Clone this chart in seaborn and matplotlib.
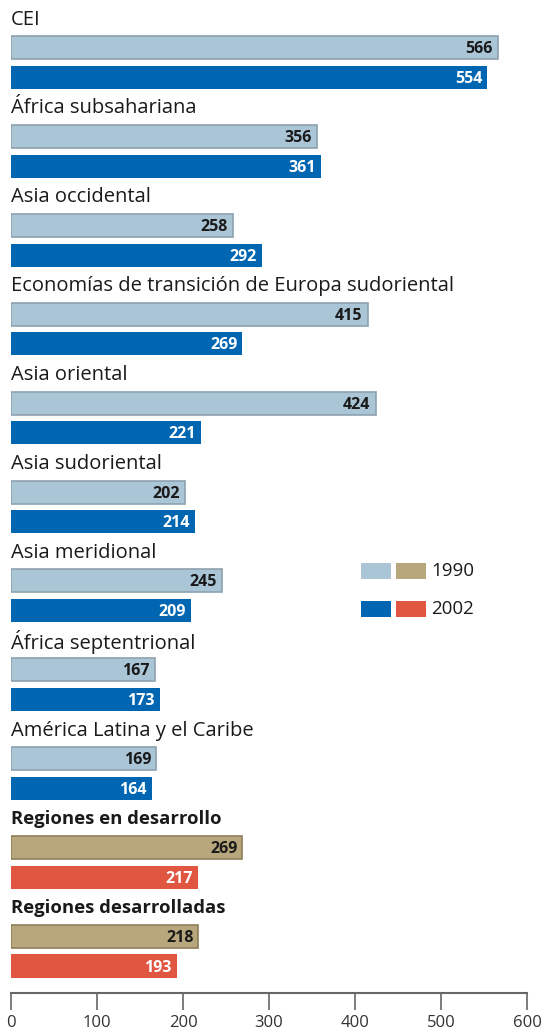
import matplotlib
matplotlib.use("Agg")
import matplotlib.pyplot as plt
import seaborn as sns
import pandas as pd

regions = ["CEI", "África subsahariana", "Asia occidental",
           "Economías de transición de Europa sudoriental", "Asia oriental",
           "Asia sudoriental", "Asia meridional", "África septentrional",
           "América Latina y el Caribe", "Regiones en desarrollo",
           "Regiones desarrolladas"]
values_1990 = [566, 356, 258, 415, 424, 202, 245, 167, 169, 269, 218]
values_2002 = [554, 361, 292, 269, 221, 214, 209, 173, 164, 217, 193]
is_aggregate = [False] * 9 + [True, True]
years = ["1990", "2002"]
xticks = [0, 100, 200, 300, 400, 500, 600]

sns.set_theme(style="white")
plt.rcParams['font.family'] = ['Open Sans', 'DejaVu Sans']

rows = []
order = []
for i, r in enumerate(regions):
    order.append(f"lab{i}")
    for y, v in zip(years, [values_1990[i], values_2002[i]]):
        key = f"{i}_{y}"
        order.append(key)
        kind = ("agg" if is_aggregate[i] else "reg") + y
        rows.append(dict(region=r, year=y, value=v, key=key, kind=kind))
df = pd.DataFrame(rows)

palette = {"reg1990": "#a9c5d6", "reg2002": "#0066b1",
           "agg1990": "#b8a77c", "agg2002": "#e05640"}

fig = plt.figure(figsize=(5.45, 10.32), dpi=100)
ax = fig.add_axes([11/545, 1 - 993/1032, (527-11)/545, 993/1032])

sns.barplot(data=df, x="value", y="key", hue="kind", order=order,
            hue_order=list(palette.keys()), palette=palette, dodge=False,
            width=0.78, legend=False, orient="h", ax=ax, saturation=1)

ax.set_xlim(0, 600)
ax.set_ylim(32.91, -0.61)

for _, row in df.iterrows():
    pos = order.index(row["key"])
    txtcol = "#1a1a1a" if row["year"] == "1990" else "white"
    ax.text(row["value"] - 6, pos + 0.05, str(row["value"]), ha="right",
            va="center", fontsize=11.5, fontweight="bold", color=txtcol)

for p in ax.patches:
    fc = p.get_facecolor()
    if abs(fc[0] - 0xa9/255) < 0.02 and abs(fc[2] - 0xd6/255) < 0.02:
        p.set_edgecolor("#8da2ae")
        p.set_linewidth(1.2)
    elif abs(fc[0] - 0xb8/255) < 0.02 and abs(fc[1] - 0xa7/255) < 0.02:
        p.set_edgecolor("#8e7f5a")
        p.set_linewidth(1.2)
    else:
        p.set_linewidth(0)

for i, r in enumerate(regions):
    pos = order.index(f"lab{i}")
    if is_aggregate[i]:
        ax.text(0, pos + 0.05, r, ha="left", va="center", fontsize=13.3,
                color="#1a1a1a", fontweight="bold")
    else:
        ax.text(0, pos + 0.05, r, ha="left", va="center", fontsize=14.5,
                color="#1a1a1a")

# legend
leg_items = [("#a9c5d6", "#b8a77c", "1990", 18.67), ("#0066b1", "#e05640", "2002", 19.95)]
for c1, c2, lab, ypos in leg_items:
    ax.barh(ypos, 35, left=407, height=0.54, color=c1, linewidth=0)
    ax.barh(ypos, 35, left=448, height=0.54, color=c2, linewidth=0)
    ax.text(489, ypos, lab, ha="left", va="center", fontsize=13.5, color="#1a1a1a")

ax.set_ylabel("")
ax.set_xlabel("")
ax.set_yticks([])
ax.set_xticks(xticks)
ax.set_xticklabels([str(t) for t in xticks], fontsize=12, color="#333333")
for s in ["top", "right", "left"]:
    ax.spines[s].set_visible(False)
ax.spines["bottom"].set_color("#666666")
ax.spines["bottom"].set_linewidth(1.5)
ax.tick_params(axis="x", direction="out", length=12, width=1.2, color="#666666",
               bottom=True, pad=4)

fig.savefig("out.png", dpi=100, facecolor="white")
